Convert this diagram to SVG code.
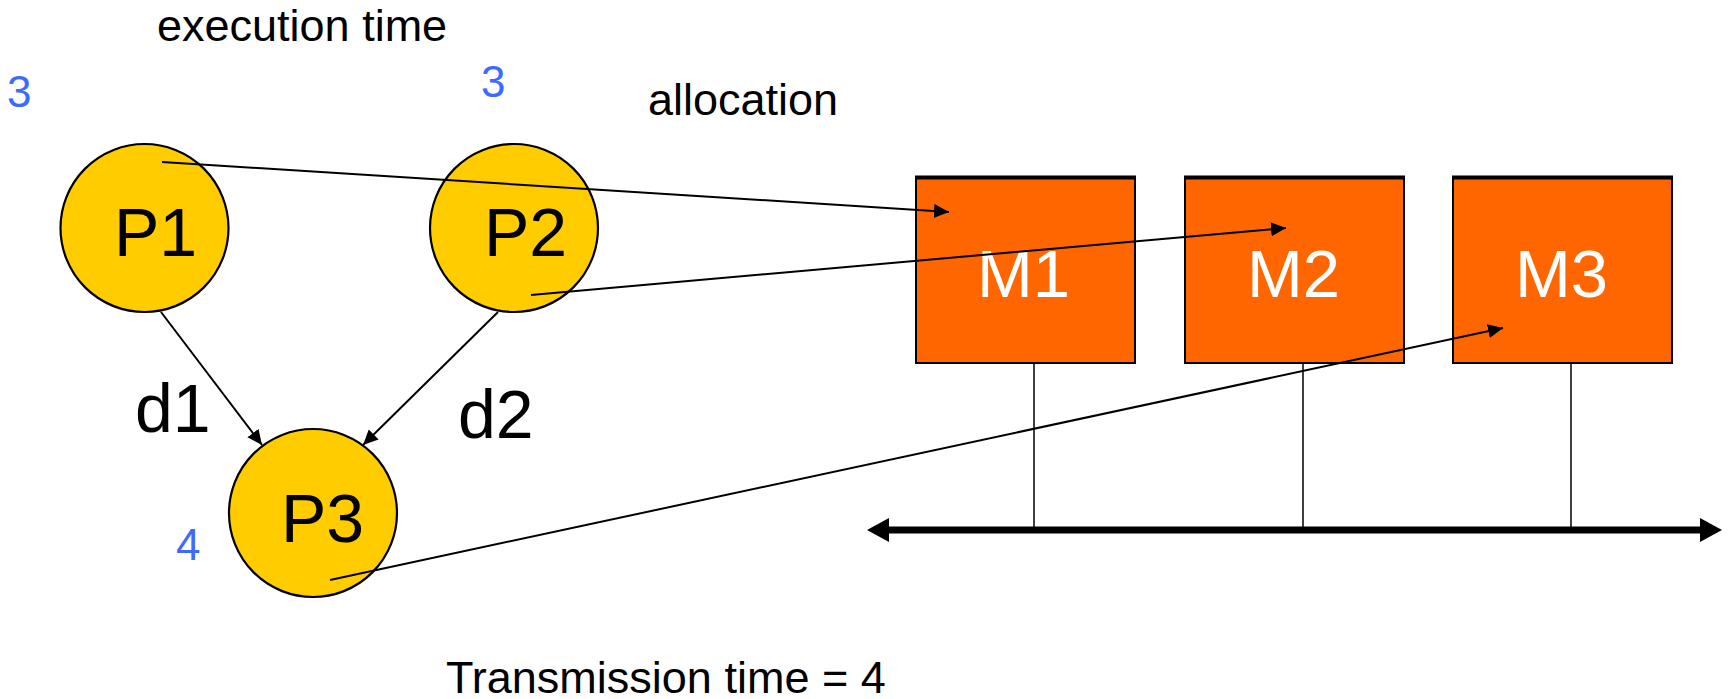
<svg xmlns="http://www.w3.org/2000/svg" width="1729" height="699" viewBox="0 0 1729 699">
  <style>
    .lbl { font-family: "Liberation Sans", Arial, sans-serif; fill: #000; }
    .big { font-size: 68px; }
    .small { font-size: 45px; }
    .num { font-family: "Liberation Sans", Arial, sans-serif; font-size: 44px; fill: #3D6BFF; }
    .proc { fill: #FFCC00; stroke: #000; stroke-width: 2.2; }
    .mem { fill: #FF6600; stroke: #000; stroke-width: 2; }
    .memtop { stroke: #000; stroke-width: 4; }
    .mtxt { font-family: "Liberation Sans", Arial, sans-serif; font-size: 67px; fill: #FFFFFF; }
    .edge { stroke: #000; stroke-width: 2; fill: none; }
    .drop { stroke: #000; stroke-width: 1.5; }
  </style>
  <defs>
    <marker id="arr" markerUnits="userSpaceOnUse" markerWidth="16" markerHeight="16" refX="15" refY="7" orient="auto">
      <path d="M0,0 L15,7 L0,14 z" fill="#000"/>
    </marker>
  </defs>

  <rect width="1729" height="699" fill="#FFFFFF"/>

  <!-- headings and annotations -->
  <text class="lbl small" x="157" y="41">execution time</text>
  <text class="lbl small" x="648" y="115">allocation</text>
  <text class="lbl small" x="446" y="693">Transmission time = 4</text>
  <text class="num" x="7" y="107">3</text>
  <text class="num" x="481" y="97">3</text>
  <text class="num" x="176" y="560">4</text>

  <!-- processes -->
  <g id="P1">
    <circle class="proc" cx="144.5" cy="228" r="84"/>
    <text class="lbl big" x="114" y="256">P1</text>
  </g>
  <g id="P2">
    <circle class="proc" cx="514" cy="228" r="84"/>
    <text class="lbl big" x="484" y="256">P2</text>
  </g>
  <g id="P3">
    <circle class="proc" cx="313" cy="513" r="84"/>
    <text class="lbl big" x="281" y="542">P3</text>
  </g>

  <!-- processors -->
  <g id="M1">
    <rect class="mem" x="916" y="177" width="219" height="186"/>
    <line class="memtop" x1="915" y1="177.5" x2="1136" y2="177.5"/>
    <text class="mtxt" x="977" y="297">M1</text>
  </g>
  <g id="M2">
    <rect class="mem" x="1185" y="177" width="219" height="186"/>
    <line class="memtop" x1="1184" y1="177.5" x2="1405" y2="177.5"/>
    <text class="mtxt" x="1247" y="297">M2</text>
  </g>
  <g id="M3">
    <rect class="mem" x="1453" y="177" width="219" height="186"/>
    <line class="memtop" x1="1452" y1="177.5" x2="1673" y2="177.5"/>
    <text class="mtxt" x="1515" y="297">M3</text>
  </g>

  <!-- bus -->
  <g id="bus">
    <line class="drop" x1="1034" y1="363" x2="1034" y2="530"/>
    <line class="drop" x1="1303" y1="363" x2="1303" y2="530"/>
    <line class="drop" x1="1571" y1="363" x2="1571" y2="530"/>
    <line x1="885" y1="530" x2="1704" y2="530" stroke="#000" stroke-width="7"/>
    <polygon points="867,530 889,518 889,542" fill="#000"/>
    <polygon points="1722,530 1700,518 1700,542" fill="#000"/>
  </g>

  <g id="connectors">
    <!-- data dependencies -->
    <line class="edge" x1="161" y1="312" x2="262" y2="445" stroke-width="1.3" marker-end="url(#arr)"/>
    <line class="edge" x1="498" y1="312" x2="363" y2="445" marker-end="url(#arr)"/>
    <!-- allocation -->
    <line class="edge" x1="162" y1="162" x2="949" y2="212" marker-end="url(#arr)"/>
    <line class="edge" x1="531" y1="295" x2="1286" y2="228" marker-end="url(#arr)"/>
    <line class="edge" x1="330" y1="580" x2="1503" y2="328" marker-end="url(#arr)"/>
  </g>

  <!-- edge labels -->
  <text class="lbl big" x="135" y="432">d1</text>
  <text class="lbl big" x="458" y="438">d2</text>
</svg>
